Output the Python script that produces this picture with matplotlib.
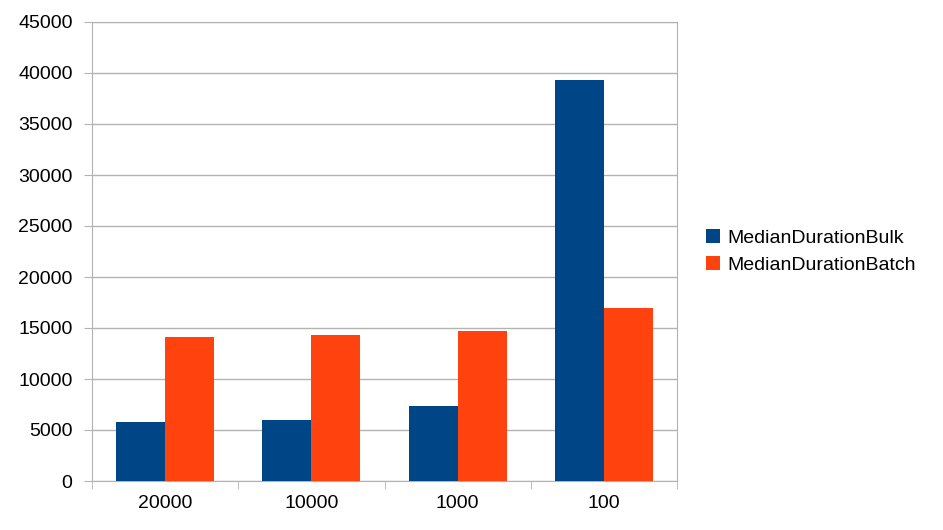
import matplotlib
matplotlib.use("Agg")
import matplotlib.pyplot as plt
import numpy as np

categories = ["20000", "10000", "1000", "100"]
bulk = [5800, 5950, 7400, 39300]
batch = [14100, 14350, 14750, 17000]

plt.rcParams['font.family'] = ['Liberation Sans', 'DejaVu Sans']
fig = plt.figure(figsize=(9.43, 5.30), dpi=100)
ax = fig.add_axes([92/943, 49/530, 585/943, 459/530])
x = np.arange(len(categories))
w = 0.335
ax.bar(x - w/2, bulk, w, color='#004586', label='MedianDurationBulk', zorder=3)
ax.bar(x + w/2, batch, w, color='#ff420e', label='MedianDurationBatch', zorder=3)
ax.set_xlim(-0.5, 3.5)
ax.set_ylim(0, 45000)
ax.set_yticks(range(0, 45001, 5000))
ax.yaxis.grid(True, color='#b3b3b3', linewidth=1, zorder=0)
ax.set_xticks(x)
ax.set_xticklabels(categories, fontsize=14)
ax.set_xticks(np.arange(-0.5, 4, 1), minor=True)
ax.tick_params(axis='x', which='major', length=0, pad=10)
ax.tick_params(axis='x', which='minor', length=6, color='#b3b3b3')
ax.tick_params(axis='y', length=6, color='#b3b3b3', labelsize=14, pad=8)
for s in ax.spines.values():
    s.set_color('#b3b3b3')
ax.legend(loc='center left', bbox_to_anchor=(1.02, 0.5), frameon=False,
          fontsize=14, handlelength=0.7, handleheight=0.7, handletextpad=0.4,
          labelspacing=0.5)
fig.savefig('out.png', dpi=100)
